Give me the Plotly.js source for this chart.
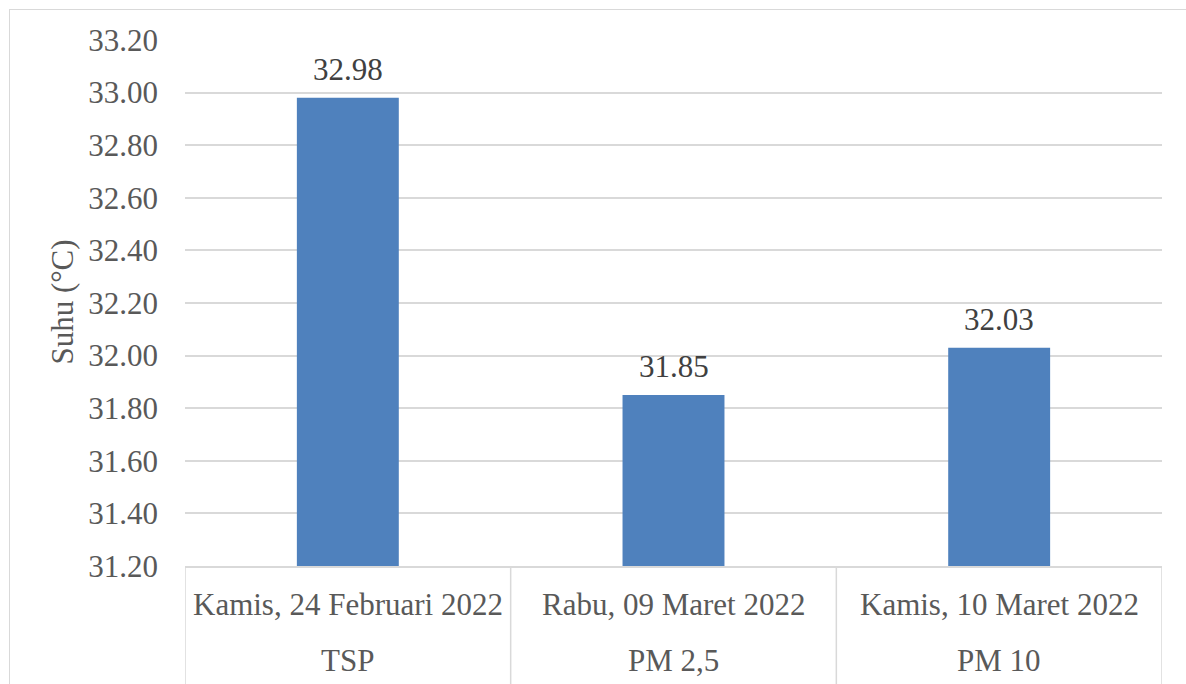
<!DOCTYPE html>
<html>
<head>
<meta charset="utf-8">
<script src="https://cdn.plot.ly/plotly-3.0.1.min.js"></script>
<style>
  html, body { margin: 0; padding: 0; background: #ffffff; }
  #wrap { position: relative; width: 1186px; height: 684px; overflow: hidden; }
  #frame { position: absolute; left: 9px; top: 9px; width: 1300px; height: 800px; border: 1.5px solid #d9d9d9; box-sizing: border-box; }
  #chart { position: absolute; left: 0; top: 0; width: 1186px; height: 684px; }
  #ytitle { position: absolute; left: 62px; top: 302px; transform: translate(-50%, -50%) rotate(-90deg);
            white-space: nowrap; font-family: "Liberation Serif"; font-size: 31px; color: #595959; line-height: 1; z-index: 5; }
</style>
</head>
<body>
<div id="wrap">
  <div id="frame"></div>
  <div id="chart"></div>
  <div id="ytitle"></div>
</div>
<script>
const dates = ["Kamis, 24 Februari 2022", "Rabu, 09 Maret 2022", "Kamis, 10 Maret 2022"];
const groups = ["TSP", "PM 2,5", "PM 10"];
const values = [32.98, 31.85, 32.03];
const yTitle = "Suhu (°C)";

const FONT = "Liberation Serif";
const TXT = "#595959";

document.getElementById("ytitle").textContent = yTitle;

const trace = { type: "bar", x: dates, y: values, marker: { color: "#4F81BD" }, hoverinfo: "skip" };

const annotations = [];
dates.forEach((d, i) => {
  annotations.push({ x: d, y: values[i], xref: "x", yref: "y", text: values[i].toFixed(2), showarrow: false,
    yanchor: "bottom", yshift: 9, font: { family: FONT, size: 31, color: "#404040" } });
  annotations.push({ x: d, y: 0, xref: "x", yref: "paper", text: d, showarrow: false, yanchor: "middle", yshift: -38,
    font: { family: FONT, size: 31, color: TXT } });
  annotations.push({ x: d, y: 0, xref: "x", yref: "paper", text: groups[i], showarrow: false, yanchor: "middle", yshift: -94,
    font: { family: FONT, size: 31, color: TXT } });
});

const shapes = [];
for (let k = 0; k <= dates.length; k++) {
  shapes.push({ type: "line", xref: "x", x0: k - 0.5, x1: k - 0.5, yref: "paper", ysizemode: "pixel", yanchor: 0, y0: 0, y1: -130,
    line: { color: "#d9d9d9", width: 1.5 } });
}

const layout = {
  width: 1186, height: 684,
  margin: { l: 185, r: 24, t: 40, b: 118 },
  paper_bgcolor: "rgba(0,0,0,0)", plot_bgcolor: "rgba(0,0,0,0)",
  showlegend: false, bargap: 0.687,
  font: { family: FONT, size: 31, color: TXT },
  xaxis: { type: "category", showticklabels: false, ticks: "", showgrid: false, showline: true, linecolor: "#d9d9d9", linewidth: 1.5, range: [-0.5, 2.5] },
  yaxis: { range: [31.2, 33.2], tick0: 31.2, dtick: 0.2, tickformat: ".2f", ticks: "", ticklabelstandoff: 26,
    showgrid: true, gridcolor: "#d9d9d9", gridwidth: 1.5, zeroline: false, showline: false,
    tickfont: { family: FONT, size: 31, color: TXT }, automargin: false },
  annotations: annotations, shapes: shapes
};

try {
  Plotly.newPlot("chart", [trace], layout, { displayModeBar: false });
  const t = document.querySelector("#chart .ytick text");
  if (t) getComputedStyle(t).fontFamily;
} catch (e) { console.error(e); }
</script>
</body>
</html>
